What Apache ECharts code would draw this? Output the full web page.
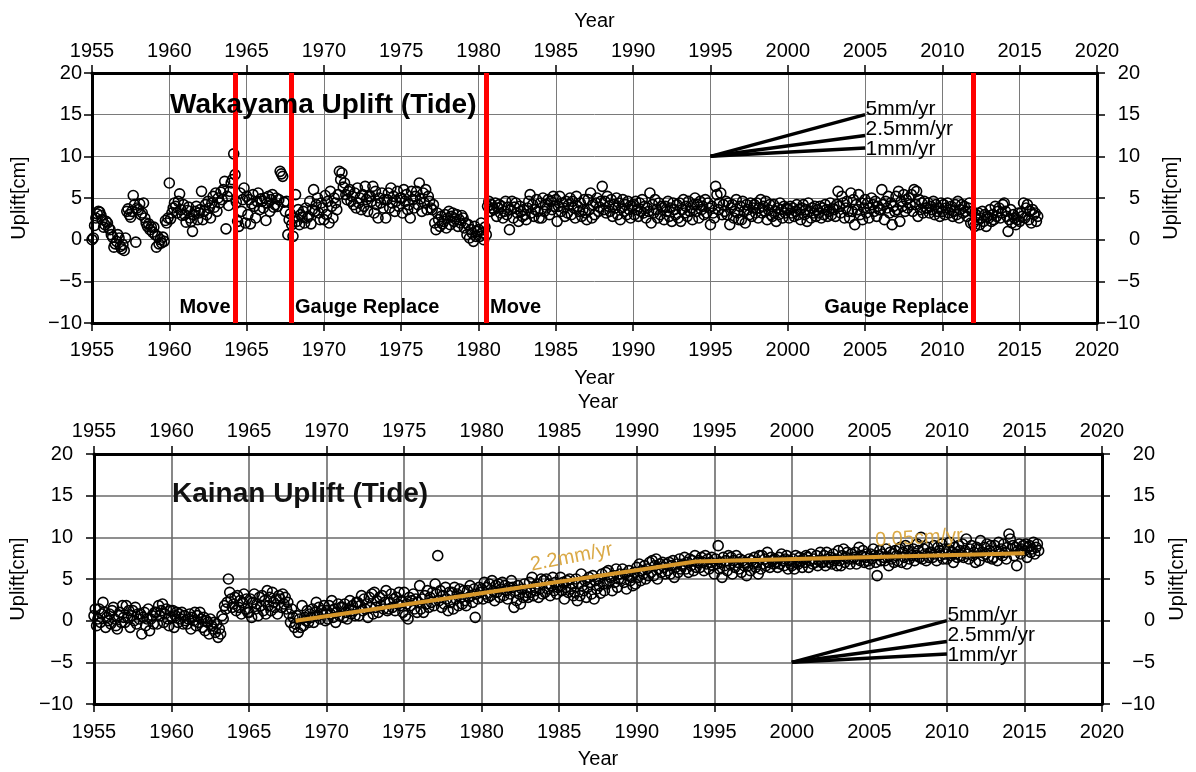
<!DOCTYPE html>
<html>
<head>
<meta charset="utf-8">
<title>Wakayama / Kainan Uplift (Tide)</title>
<script src="https://cdn.jsdelivr.net/npm/echarts@6/dist/echarts.min.js"></script>
<style>
  html, body { margin: 0; padding: 0; background: #fff; }
  #chart { width: 1196px; height: 772px; }
</style>
</head>
<body>
<div id="chart"></div>
<script>
// ---- data (cm), monthly values ----
const samplesPerYear = 12;
const wakayamaStart = 1955;
const wakayama = [
  0.0, 0.2, 1.7, 2.6, 3.1, 3.4, 3.3, 2.9, 2.4, 1.5, 1.8, 2.2,        // 1955
  2.0, 1.4, 1.2, 0.6, 0.3, -0.9, -0.5, -0.2, 0.6, 0.2, -0.8, -1.1,   // 1956
  -0.6, -1.3, 0.2, 3.4, 3.7, 3.0, 2.7, 3.4, 5.3, 4.2, -0.3, 3.8,     // 1957
  3.6, 4.3, 3.0, 3.2, 4.4, 2.6, 2.0, 1.6, 1.9, 1.2, 1.5, 0.9,        // 1958
  1.5, 0.6, -0.9, 0.4, -0.5, 0.0, -0.4, 0.3, -0.2, 2.3, 2.0, 2.6,    // 1959
  6.8, 2.5, 3.2, 3.8, 4.4, 4.0, 3.2, 4.6, 5.5, 3.6, 2.9, 4.2,        // 1960
  3.0, 2.1, 3.5, 3.9, 2.6, 2.2, 1.0, 3.0, 3.4, 4.0, 2.4, 3.2,        // 1961
  3.6, 5.8, 2.4, 3.4, 4.2, 3.0, 4.6, 3.8, 2.6, 4.4, 5.2, 3.9,        // 1962
  5.6, 3.4, 5.0, 4.4, 5.7, 4.8, 6.0, 7.0, 1.3, 5.2, 4.1, 5.8,        // 1963
  6.8, 7.2, 10.3, 7.8, 4.5, 2.2, 1.6, 5.6, 3.4, 4.8, 6.2, 2.0,       // 1964
  5.2, 3.0, 4.8, 1.9, 4.3, 5.4, 4.0, 2.6, 4.6, 5.6, 3.6, 4.9,        // 1965
  4.6, 3.8, 5.0, 2.3, 4.4, 5.2, 3.4, 4.8, 5.4, 3.9, 4.2, 5.0,        // 1966
  4.0, 4.8, 8.2, 7.9, 7.6, 4.5, 3.4, 4.6, 0.6, 2.4, 3.1, 1.8,        // 1967
  0.4, 2.6, 5.4, 2.2, 3.6, 1.8, 3.0, 2.7, 3.4, 2.0, 3.8, 2.6,        // 1968
  2.8, 4.6, 1.9, 3.6, 6.0, 3.4, 4.2, 5.0, 3.2, 2.4, 4.4, 3.8,        // 1969
  2.4, 5.3, 3.0, 4.6, 2.0, 5.8, 4.0, 2.6, 5.0, 4.4, 3.6, 5.4,        // 1970
  8.2, 7.2, 8.0, 6.3, 6.8, 5.4, 4.8, 5.8, 6.0, 4.6, 5.2, 4.2,        // 1971
  5.6, 3.8, 6.2, 4.4, 5.0, 3.6, 5.4, 4.0, 6.4, 4.8, 3.4, 5.2,        // 1972
  5.2, 4.6, 6.4, 3.2, 5.8, 4.2, 2.6, 5.0, 4.4, 5.6, 3.8, 4.8,        // 1973
  2.6, 4.8, 5.6, 3.8, 6.2, 4.4, 5.2, 3.4, 4.6, 5.8, 4.0, 5.0,        // 1974
  5.0, 3.2, 6.0, 4.6, 5.4, 3.6, 4.2, 2.6, 5.8, 4.8, 3.8, 5.2,        // 1975
  5.8, 4.2, 6.8, 4.9, 3.4, 5.6, 4.4, 6.0, 3.6, 5.2, 4.6, 3.8,        // 1976
  3.6, 4.2, 2.0, 1.2, 3.2, 2.4, 1.6, 2.8, 1.9, 2.2, 3.0, 1.4,        // 1977
  2.6, 3.4, 1.8, 2.8, 3.2, 2.2, 2.5, 3.0, 1.6, 2.4, 2.0, 2.9,        // 1978
  2.6, 1.4, 2.0, 0.6, 1.8, 0.2, 1.2, 0.8, -0.2, 1.6, 0.4, 1.0,       // 1979
  1.2, 0.4, 2.0, 0.8, 0.0, 1.5, 0.6, 4.0, 4.6, 3.4, 4.2, 3.8,        // 1980
  3.6, 4.4, 2.8, 3.8, 4.2, 3.2, 4.0, 2.6, 3.4, 4.6, 3.0, 3.9,        // 1981
  1.2, 3.6, 4.6, 2.6, 3.9, 4.4, 3.2, 2.2, 4.0, 3.4, 2.8, 3.6,        // 1982
  3.0, 2.4, 3.8, 4.6, 5.4, 3.2, 4.2, 2.8, 3.6, 4.8, 3.4, 2.6,        // 1983
  4.4, 2.6, 5.0, 3.4, 4.2, 3.8, 4.8, 3.0, 4.6, 3.6, 5.2, 4.0,        // 1984
  4.8, 2.2, 4.0, 5.2, 3.4, 4.4, 3.8, 2.8, 4.6, 3.2, 4.2, 5.0,        // 1985
  3.0, 4.6, 3.8, 2.6, 5.2, 4.0, 3.4, 4.4, 2.8, 3.6, 4.8, 3.2,        // 1986
  2.4, 4.8, 3.6, 5.6, 2.6, 4.2, 3.0, 4.4, 5.0, 3.4, 3.9, 4.6,        // 1987
  6.4, 3.6, 4.6, 3.2, 5.2, 4.0, 3.4, 4.8, 2.8, 4.2, 3.8, 5.0,        // 1988
  3.0, 4.4, 2.4, 3.8, 4.8, 3.4, 4.2, 3.0, 4.6, 3.6, 2.6, 4.0,        // 1989
  4.2, 3.0, 4.6, 3.6, 2.8, 4.4, 3.4, 4.8, 3.2, 4.0, 2.6, 3.8,        // 1990
  3.4, 5.6, 2.0, 4.2, 3.2, 4.8, 3.6, 2.6, 4.4, 3.0, 4.0, 3.8,        // 1991
  2.4, 4.0, 3.4, 4.6, 2.8, 3.8, 2.2, 4.4, 3.6, 3.0, 4.2, 2.6,        // 1992
  4.4, 2.2, 3.6, 4.8, 3.2, 4.0, 2.8, 4.6, 3.4, 3.8, 2.4, 4.2,        // 1993
  5.0, 3.4, 4.2, 2.6, 4.6, 3.6, 4.0, 3.0, 4.8, 3.2, 4.4, 3.8,        // 1994
  1.8, 4.0, 3.2, 2.6, 6.4, 5.4, 3.6, 4.4, 5.6, 3.0, 4.2, 3.4,        // 1995
  4.6, 3.0, 4.4, 1.8, 3.8, 4.2, 2.6, 3.4, 4.8, 3.2, 2.4, 4.0,        // 1996
  2.4, 4.6, 3.4, 2.0, 4.2, 3.6, 3.0, 4.4, 2.8, 3.8, 4.2, 3.2,        // 1997
  4.4, 2.6, 3.8, 4.8, 3.2, 4.0, 3.4, 4.6, 2.4, 3.6, 4.2, 3.0,        // 1998
  2.8, 4.2, 3.4, 2.2, 3.8, 3.0, 4.4, 3.6, 2.6, 4.0, 3.2, 3.8,        // 1999
  3.6, 2.6, 4.0, 3.2, 3.8, 2.8, 3.4, 4.2, 3.0, 3.6, 2.4, 3.8,        // 2000
  4.2, 3.0, 3.6, 2.2, 4.4, 3.4, 2.6, 3.8, 3.2, 4.0, 2.8, 3.6,        // 2001
  3.2, 4.0, 2.6, 3.8, 3.0, 4.2, 3.6, 2.8, 3.4, 4.4, 3.0, 3.8,        // 2002
  3.6, 2.8, 4.2, 5.8, 4.0, 3.2, 5.2, 4.4, 2.6, 3.8, 4.6, 3.4,        // 2003
  2.6, 5.6, 3.4, 4.8, 1.8, 4.2, 3.6, 5.4, 3.0, 4.4, 2.4, 3.8,        // 2004
  4.8, 3.2, 4.4, 2.6, 3.8, 5.0, 4.2, 3.4, 4.6, 2.8, 4.0, 3.6,        // 2005
  3.6, 6.0, 4.2, 2.4, 4.6, 3.8, 5.2, 3.2, 4.4, 1.8, 4.0, 3.4,        // 2006
  5.2, 3.6, 5.8, 2.2, 4.6, 4.0, 5.4, 3.4, 4.8, 3.8, 5.0, 4.2,        // 2007
  5.4, 3.4, 6.0, 4.2, 5.8, 2.8, 4.8, 3.6, 4.4, 3.2, 4.6, 3.8,        // 2008
  3.8, 4.4, 3.2, 4.0, 3.6, 4.6, 3.0, 4.2, 3.4, 3.8, 2.8, 4.4,        // 2009
  3.4, 4.2, 3.0, 3.8, 4.4, 3.2, 3.6, 4.0, 2.8, 3.4, 4.2, 3.0,        // 2010
  4.6, 2.6, 3.6, 4.2, 3.2, 4.0, 3.4, 2.8, 3.8, 4.4, 2.0, 3.4,        // 2011
  2.0, 1.6, 3.0, 2.4, 3.2, 1.8, 2.6, 3.4, 2.2, 3.0, 1.6, 2.8,        // 2012
  2.6, 3.6, 2.2, 3.0, 2.4, 4.0, 2.8, 3.4, 3.8, 2.6, 3.2, 4.2,        // 2013
  4.4, 3.4, 2.8, 1.0, 2.4, 3.6, 2.0, 3.0, 2.6, 1.8, 2.4, 3.2,        // 2014
  2.2, 3.2, 2.8, 4.4, 2.6, 3.8, 4.2, 2.4, 3.4, 2.0, 3.6, 3.0,        // 2015
  3.2, 2.2, 2.8                                                      // 2016
];

const kainanStart = 1955;
const kainan = [
  0.6, 1.4, -0.6, 0.2, 1.4, -0.2, 0.8, 2.2, 1.0, -0.8, 0.4, 0.0,     // 1955
  0.8, -0.4, 1.2, 1.6, 0.2, -0.6, -1.0, 0.6, 1.0, -0.2, 1.8, 0.4,    // 1956
  -0.2, 1.8, 0.4, 1.2, -0.8, 0.6, 1.2, 0.0, 1.6, -0.4, 0.8, 0.2,     // 1957
  0.8, -1.6, 0.4, 1.0, -0.6, 0.2, 1.4, -1.2, 0.2, 0.6, -0.4, 1.0,    // 1958
  1.0, -0.4, 1.8, 0.6, 1.2, 2.0, -0.2, 0.8, 1.4, 0.2, -0.6, 1.2,     // 1959
  0.4, 1.2, -0.8, 0.6, 1.0, -0.2, 0.8, 0.2, 1.0, -0.4, 0.6, 0.0,     // 1960
  -0.4, 0.2, 0.8, -1.0, 0.4, 0.0, 1.0, -0.6, 0.6, -0.2, 1.0, 0.2,    // 1961
  -0.8, 0.4, -1.2, 0.0, -0.2, -1.6, 0.2, -0.6, -1.0, -0.2, -1.4, -0.4, // 1962
  -2.0, -1.0, -1.6, 0.6, 0.2, 1.8, 1.4, 2.2, 5.0, 3.4, 2.6, 1.6,     // 1963
  2.0, 2.8, 1.2, 3.0, 1.6, 2.4, 0.8, 2.2, 3.2, 1.4, 2.6, 1.0,        // 1964
  1.0, 2.6, 0.4, 2.2, 3.2, 1.4, 2.0, 0.6, 2.8, 1.8, 3.0, 1.2,        // 1965
  2.4, 0.8, 3.6, 1.8, 2.8, 1.2, 3.4, 2.2, 1.6, 2.6, 0.8, 3.0,        // 1966
  2.6, 1.6, 3.2, 2.0, 2.8, 1.4, 2.2, 0.8, -0.2, 1.4, 0.4, -0.8,      // 1967
  -0.4, 0.6, -1.4, 0.2, -0.8, 1.8, -0.6, 0.4, 0.0, 1.2, -0.2, 0.8,   // 1968
  0.4, 1.4, -0.2, 1.0, 2.2, 0.6, 1.6, 0.2, 1.2, 0.8, 1.8, 0.0,       // 1969
  1.2, 0.2, 1.8, 0.8, 2.4, 0.4, 1.4, -0.2, 1.0, 2.0, 0.6, 1.6,       // 1970
  1.6, 0.4, 2.0, 1.0, 0.2, 1.4, 2.4, 0.8, 1.8, 1.2, 0.6, 2.2,        // 1971
  2.2, 0.6, 1.8, 3.0, 1.2, 2.6, 1.4, 2.0, 0.4, 2.8, 1.6, 3.2,        // 1972
  0.8, 3.4, 1.6, 2.4, 1.0, 2.8, 1.8, 3.0, 1.4, 2.2, 3.6, 1.2,        // 1973
  1.4, 2.2, 3.2, 1.6, 2.6, 1.2, 2.8, 2.0, 3.4, 1.8, 2.4, 1.0,        // 1974
  3.4, 0.6, 2.0, 0.2, 2.8, 1.8, 2.4, 3.2, 1.4, 2.6, 1.0, 2.2,        // 1975
  4.2, 1.4, 2.6, 1.0, 3.0, 2.0, 3.6, 1.6, 2.8, 2.2, 3.4, 1.8,        // 1976
  4.4, 3.2, 7.8, 2.4, 3.6, 1.6, 3.0, 2.0, 4.0, 2.6, 1.2, 3.4,        // 1977
  2.2, 3.4, 1.4, 4.0, 2.6, 3.2, 1.8, 3.8, 2.8, 2.0, 3.6, 2.4,        // 1978
  1.8, 3.6, 2.8, 4.2, 3.0, 2.2, 3.8, 0.4, 3.2, 2.6, 4.0, 3.4,        // 1979
  3.8, 2.6, 4.6, 3.2, 4.0, 2.8, 4.4, 3.0, 4.8, 3.6, 2.4, 4.2,        // 1980
  3.4, 4.4, 2.8, 3.8, 4.6, 3.0, 4.2, 3.6, 2.6, 4.0, 3.2, 4.8,        // 1981
  4.0, 1.6, 3.6, 2.4, 4.2, 3.2, 2.0, 3.8, 2.8, 4.4, 3.0, 3.4,        // 1982
  2.8, 4.6, 3.4, 5.2, 3.0, 4.0, 3.6, 4.4, 2.8, 3.8, 5.0, 3.2,        // 1983
  4.8, 3.4, 5.0, 3.8, 4.4, 3.0, 4.2, 5.2, 3.6, 4.6, 3.2, 4.0,        // 1984
  4.2, 5.2, 3.6, 4.6, 2.6, 4.0, 4.8, 3.4, 5.0, 3.8, 4.4, 3.0,        // 1985
  3.4, 5.0, 2.4, 4.4, 3.0, 5.6, 4.2, 3.6, 4.8, 2.8, 4.0, 5.2,        // 1986
  4.6, 3.2, 5.4, 2.6, 4.8, 3.8, 5.0, 4.2, 3.3, 5.6, 4.4, 3.6,        // 1987
  5.8, 4.4, 6.0, 4.8, 5.2, 3.6, 5.4, 4.6, 6.2, 4.0, 5.0, 5.6,        // 1988
  5.0, 6.2, 4.6, 5.6, 3.8, 5.4, 6.0, 4.8, 5.2, 4.2, 5.8, 4.4,        // 1989
  6.4, 5.2, 6.8, 4.8, 6.0, 5.6, 6.6, 5.0, 6.2, 5.4, 7.0, 5.8,        // 1990
  7.2, 5.4, 6.6, 7.4, 5.0, 6.2, 6.8, 5.8, 7.0, 6.4, 5.6, 6.8,        // 1991
  6.0, 7.0, 5.6, 6.6, 7.2, 5.2, 6.4, 6.8, 5.8, 7.4, 6.2, 6.6,        // 1992
  6.8, 7.6, 6.2, 7.0, 5.8, 7.4, 6.6, 7.2, 6.0, 7.8, 6.4, 7.0,        // 1993
  7.2, 6.4, 7.6, 7.0, 6.0, 7.8, 6.8, 7.4, 6.2, 7.0, 7.6, 6.6,        // 1994
  5.6, 7.4, 6.8, 9.0, 6.2, 7.0, 5.2, 7.6, 6.6, 7.2, 6.0, 7.8,        // 1995
  6.8, 7.6, 5.6, 7.2, 6.4, 7.8, 7.0, 6.2, 7.4, 5.8, 7.2, 6.6,        // 1996
  7.0, 5.4, 6.6, 7.4, 6.0, 7.2, 6.8, 7.6, 6.4, 7.0, 5.6, 7.8,        // 1997
  6.2, 7.8, 6.8, 7.4, 6.6, 8.2, 7.0, 6.4, 7.6, 7.2, 6.8, 7.4,        // 1998
  7.0, 6.4, 7.6, 6.8, 8.0, 7.2, 6.6, 7.4, 7.8, 6.2, 7.2, 6.8,        // 1999
  6.6, 7.4, 6.2, 7.8, 7.0, 6.8, 7.6, 7.2, 6.4, 7.4, 7.0, 7.8,        // 2000
  7.6, 6.4, 7.2, 8.0, 6.8, 7.4, 7.0, 7.8, 6.6, 7.2, 8.2, 7.0,        // 2001
  7.0, 7.8, 6.6, 8.2, 7.4, 7.0, 7.6, 6.8, 8.0, 7.2, 7.4, 6.6,        // 2002
  8.4, 7.2, 6.6, 7.8, 8.6, 7.0, 7.6, 8.2, 7.4, 6.8, 8.0, 7.4,        // 2003
  7.6, 8.2, 6.8, 7.4, 8.8, 7.2, 7.8, 8.4, 7.0, 7.6, 8.0, 7.2,        // 2004
  6.8, 8.0, 7.4, 8.6, 7.8, 7.0, 5.4, 7.8, 8.4, 7.2, 8.0, 7.6,        // 2005
  7.2, 8.6, 7.6, 6.6, 8.2, 7.4, 8.0, 7.0, 8.4, 7.8, 7.2, 8.6,        // 2006
  8.8, 7.0, 8.2, 7.6, 9.0, 6.8, 8.4, 7.4, 8.0, 7.8, 8.6, 7.2,        // 2007
  7.8, 9.2, 8.4, 7.6, 10.0, 7.4, 8.6, 8.0, 7.2, 8.8, 7.6, 8.2,       // 2008
  8.2, 7.6, 9.0, 8.0, 7.2, 8.8, 8.4, 7.8, 9.2, 7.4, 8.6, 8.0,        // 2009
  7.4, 8.6, 9.4, 7.8, 8.2, 7.0, 8.8, 8.0, 7.6, 9.0, 8.4, 7.8,        // 2010
  9.2, 7.6, 8.4, 9.8, 8.0, 7.4, 8.6, 9.0, 7.8, 8.2, 7.0, 8.8,        // 2011
  8.6, 7.2, 9.6, 8.2, 7.8, 8.8, 8.0, 9.2, 7.6, 8.4, 9.0, 7.4,        // 2012
  7.6, 9.0, 8.4, 7.2, 9.4, 8.0, 8.6, 7.8, 9.2, 8.2, 7.4, 8.8,        // 2013
  10.4, 9.8, 8.6, 9.0, 7.8, 8.8, 6.6, 8.4, 9.2, 8.0, 8.6, 9.0,       // 2014
  8.4, 9.2, 7.6, 8.8, 9.0, 8.2, 8.6, 9.4, 8.0, 8.8, 9.2, 8.4         // 2015
];

// piecewise fit drawn over the Kainan data
const kainanFitYears = [1968, 1993.8, 2015];
const kainanFitValues = [0, 7.1, 8.1];
const kainanRateText = ['2.2mm/yr', '0.05cm/yr'];
const kainanRateAt = [[1985.8, 7.6], [2008.2, 9.9]];

// station events (Wakayama)
const eventYears = [1964.25, 1967.9, 1980.52, 2012.0];
const eventText = ['Move', 'Gauge Replace', 'Move', 'Gauge Replace'];
const eventSide = ['left', 'right', 'right', 'left'];
const eventLabelY = -8.1;

// reference slopes
const rateNames = ['5mm/yr', '2.5mm/yr', '1mm/yr'];
const rateRise = [5, 2.5, 1];          // cm over 10 years
const wakaRateOrigin = [1995, 10];
const wakaRateLabelY = [15.7, 13.25, 10.85];
const kainanRateOrigin = [2000, -5];
const kainanRateLabelY = [0.7, -1.8, -4.1];

const yearMin = 1955, yearMax = 2020, yearStep = 5;
const upliftMin = -10, upliftMax = 20, upliftStep = 5;

// ---- chart ----
const FONT = "'Liberation Sans', Arial, Helvetica, sans-serif";
const toPoints = (start, vals) => vals.map((v, i) => [start + i / samplesPerYear, v]);
const minus = v => String(v).replace('-', '\u2212');

function xAxis(grid, position, margin, nameGap, split) {
  return {
    type: 'value', gridIndex: grid, position: position,
    min: yearMin, max: yearMax, interval: yearStep,
    name: 'Year', nameLocation: 'middle', nameGap: nameGap,
    nameTextStyle: { fontSize: 20, color: '#000', fontFamily: FONT },
    axisLine: { show: true, onZero: false, lineStyle: { color: '#000', width: 3 } },
    axisTick: { show: true, inside: false, length: 8, lineStyle: { color: '#000', width: 1.5 } },
    axisLabel: { fontSize: 20, color: '#000', fontFamily: FONT, margin: margin, formatter: v => String(v) },
    splitLine: { show: !!split, lineStyle: split || {} }
  };
}

function yAxis(grid, position, margin, nameGap, split) {
  return {
    type: 'value', gridIndex: grid, position: position,
    min: upliftMin, max: upliftMax, interval: upliftStep,
    name: 'Uplift[cm]', nameLocation: 'middle', nameGap: nameGap, nameRotate: 90,
    nameTextStyle: { fontSize: 20, color: '#000', fontFamily: FONT },
    axisLine: { show: true, onZero: false, lineStyle: { color: '#000', width: 3 } },
    axisTick: { show: true, inside: false, length: 8, lineStyle: { color: '#000', width: 1.5 } },
    axisLabel: {
      fontSize: 20, color: '#000', fontFamily: FONT, margin: margin,
      align: 'right', formatter: minus
    },
    splitLine: { show: !!split, lineStyle: split || {} }
  };
}

// invisible anchor points that only carry text labels
const textAnchor = { symbolSize: 1, itemStyle: { color: 'rgba(0,0,0,0)', opacity: 1 } };

function rateSeries(xi, yi, origin, labelY) {
  const out = rateNames.map((name, k) => ({
    type: 'line', xAxisIndex: xi, yAxisIndex: yi, silent: true,
    showSymbol: false, z: 4,
    lineStyle: { color: '#000', width: 3.5 },
    data: [origin, [origin[0] + 10, origin[1] + rateRise[k]]]
  }));
  out.push(Object.assign({
    type: 'scatter', xAxisIndex: xi, yAxisIndex: yi, silent: true, z: 5,
    label: {
      show: true, position: 'right', distance: 0, formatter: p => p.name,
      fontSize: 21, color: '#000', fontFamily: FONT
    },
    data: rateNames.map((name, k) => ({ name: name, value: [origin[0] + 10, labelY[k]] }))
  }, textAnchor));
  return out;
}

const circles = {
  symbol: 'circle', symbolSize: 10,
  itemStyle: { color: 'rgba(0,0,0,0)', borderColor: '#000', borderWidth: 1.6, opacity: 1 }
};

const option = {
  animation: false,
  backgroundColor: '#fff',
  title: [
    {
      text: 'Wakayama Uplift (Tide)', left: 170, top: 91, padding: 0,
      textStyle: { fontSize: 28, fontWeight: 'bold', color: '#000', fontFamily: FONT }
    },
    {
      text: 'Kainan Uplift (Tide)', left: 172, top: 480, padding: 0,
      textStyle: { fontSize: 28, fontWeight: 'bold', color: '#111', fontFamily: FONT }
    }
  ],
  grid: [
    { left: 92, right: 99, top: 73, bottom: 449 },
    { left: 94, right: 94, top: 454, bottom: 68 }
  ],
  xAxis: [
    xAxis(0, 'bottom', 17, 45, { color: '#7a7a7a', width: 1 }),
    xAxis(0, 'top', 12, 42),
    xAxis(1, 'bottom', 18, 45, { color: '#6a6a6a', width: 1.6 }),
    xAxis(1, 'top', 13, 42)
  ],
  yAxis: [
    yAxis(0, 'left', 10, 63, { color: '#7a7a7a', width: 1 }),
    yAxis(0, 'right', 43, 64),
    yAxis(1, 'left', 21, 59, { color: '#6a6a6a', width: 1.6 }),
    yAxis(1, 'right', 53, 65)
  ],
  series: [
    // Wakayama
    Object.assign({ type: 'scatter', xAxisIndex: 0, yAxisIndex: 0, z: 2,
      data: toPoints(wakayamaStart, wakayama) }, circles),
    {
      type: 'line', xAxisIndex: 0, yAxisIndex: 0, data: [], z: 3,
      markLine: {
        silent: true, symbol: 'none', label: { show: false },
        lineStyle: { color: '#ff0000', width: 5, type: 'solid' },
        data: eventYears.map(x => ({ xAxis: x }))
      }
    },
    Object.assign({
      type: 'scatter', xAxisIndex: 0, yAxisIndex: 0, silent: true, z: 5,
      data: eventYears.map((x, k) => ({
        name: eventText[k], value: [x, eventLabelY],
        label: { position: eventSide[k], distance: eventSide[k] === 'left' ? 4 : 3 }
      })),
      label: {
        show: true, formatter: p => p.name,
        fontSize: 20, fontWeight: 'bold', color: '#000', fontFamily: FONT
      }
    }, textAnchor),
    ...rateSeries(0, 0, wakaRateOrigin, wakaRateLabelY),

    // Kainan
    Object.assign({ type: 'scatter', xAxisIndex: 2, yAxisIndex: 2, z: 2,
      data: toPoints(kainanStart, kainan) }, circles),
    {
      type: 'line', xAxisIndex: 2, yAxisIndex: 2, silent: true, z: 3,
      showSymbol: false,
      lineStyle: { color: '#d6962a', width: 4 },
      data: kainanFitYears.map((x, k) => [x, kainanFitValues[k]])
    },
    Object.assign({
      type: 'scatter', xAxisIndex: 2, yAxisIndex: 2, silent: true, z: 5,
      data: kainanRateText.map((t, k) => ({
        name: t, value: kainanRateAt[k],
        label: { rotate: k === 0 ? 11 : 3 }
      })),
      label: {
        show: true, position: 'inside', formatter: p => p.name,
        fontSize: 20, color: 'rgba(214,160,50,0.9)', fontFamily: FONT
      }
    }, textAnchor),
    ...rateSeries(2, 2, kainanRateOrigin, kainanRateLabelY)
  ]
};

const chart = echarts.init(document.getElementById('chart'), null, { renderer: 'canvas' });
chart.setOption(option);
</script>
</body>
</html>
